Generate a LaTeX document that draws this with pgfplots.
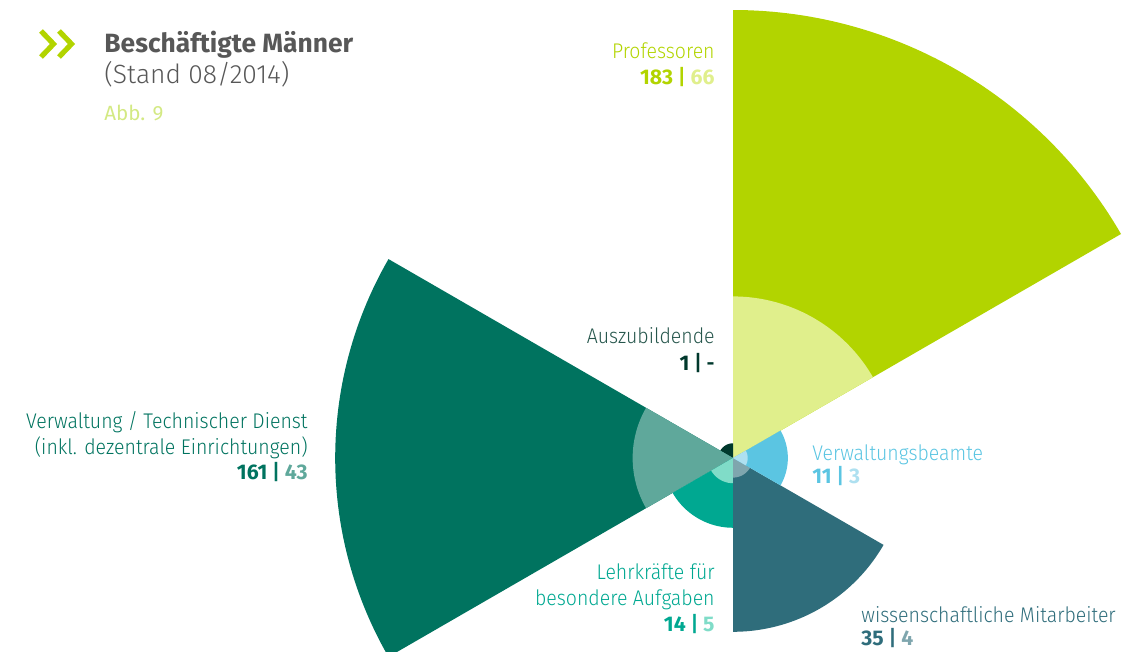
\documentclass[border=0pt]{standalone}
\usepackage{pgfplots}
\pgfplotsset{compat=1.18}
\usepackage{fontspec}
\setmainfont{Fira Sans}
\newfontfamily\lightfont[FakeStretch=0.92]{Fira Sans Light}
\newfontfamily\titlelight{Fira Sans Light}
\definecolor{profO}{HTML}{B2D400}
\definecolor{profI}{HTML}{E0EF8C}
\definecolor{verwO}{HTML}{00735F}
\definecolor{verwI}{HTML}{5FA89B}
\definecolor{lehrO}{HTML}{00A891}
\definecolor{lehrI}{HTML}{80DCC8}
\definecolor{wissO}{HTML}{2F6D7B}
\definecolor{wissI}{HTML}{7FA6AE}
\definecolor{beamO}{HTML}{5BC5E2}
\definecolor{beamI}{HTML}{AEE0F0}
\definecolor{azubi}{HTML}{00382C}
\definecolor{titlegrey}{HTML}{575757}
\definecolor{abb}{HTML}{D3E983}
\newcommand{\sector}[4]{%
  \addplot[draw=none, fill=#4, domain=#1:#2, samples=61, variable=\t]
    ({#3*cos(\t)},{#3*sin(\t)}) -- (axis cs:0,0) -- cycle;}
\newcommand{\lab}{\fontsize{10.6}{12}\selectfont}
\begin{document}
\begin{tikzpicture}
\useasboundingbox (0,0) rectangle (564pt,326pt);
\begin{axis}[at={(0,0)}, anchor=south west,
  scale only axis, width=564pt, height=326pt,
  xmin=-299.42, xmax=161.35, ymin=-79.25, ymax=187.09,
  hide axis, clip=true]
% start angle, end angle, radius (outer, then inner)
\sector{30}{90}{183}{profO}
\sector{30}{90}{66}{profI}
\sector{90}{150}{6}{azubi}
\sector{150}{210}{162.5}{verwO}
\sector{150}{210}{41}{verwI}
\sector{210}{270}{28.5}{lehrO}
\sector{210}{270}{10.3}{lehrI}
\sector{270}{330}{71}{wissO}
\sector{270}{330}{8}{wissI}
\sector{-30}{30}{22.4}{beamO}
\sector{-30}{30}{6}{beamI}
\end{axis}
\begin{scope}[x=0.5pt, y=-0.5pt, shift={(0pt,326pt)}]
% chevrons
\draw[profO, line width=2.6pt, line cap=butt, line join=miter]
  (41,31) -- (53.5,44) -- (41,57);
\draw[profO, line width=2.6pt, line cap=butt, line join=miter]
  (59,31) -- (71.5,44) -- (59,57);
\node[anchor=base west, inner sep=0pt, text=titlegrey, font=\fontsize{13.2}{15}\selectfont\bfseries] at (104,53) {Beschäftigte Männer};
\node[anchor=base west, inner sep=0pt, text=titlegrey, font=\fontsize{13.2}{15}\selectfont\titlelight] at (104,84) {(Stand 08/2014)};
\node[anchor=base west, inner sep=0pt, text=abb, font=\fontsize{10.3}{12}\selectfont] at (104,121) {Abb. 9};
% Professoren
\node[anchor=base east, inner sep=0pt, text=profO, font=\lab\lightfont] at (715,59) {Professoren};
\node[anchor=base east, inner sep=0pt, text=profO, font=\lab] at (715,85) {\bfseries 183 {\lightfont|} \textcolor{profI}{66}};
% Auszubildende
\node[anchor=base east, inner sep=0pt, text=azubi!85, font=\lab\lightfont] at (715,344) {Auszubildende};
\node[anchor=base east, inner sep=0pt, text=azubi, font=\lab] at (715,371) {\bfseries 1 {\lightfont| -}};
% Verwaltung
\node[anchor=base east, inner sep=0pt, text=verwO, font=\lab\lightfont] at (308,429) {Verwaltung / Technischer Dienst};
\node[anchor=base east, inner sep=0pt, text=verwO, font=\lab\lightfont] at (308,455) {(inkl. dezentrale Einrichtungen)};
\node[anchor=base east, inner sep=0pt, text=verwO, font=\lab] at (308,480) {\bfseries 161 {\lightfont|} \textcolor{verwI}{43}};
% Verwaltungsbeamte
\node[anchor=base west, inner sep=0pt, text=beamO, font=\lab\lightfont] at (812,461) {Verwaltungsbeamte};
\node[anchor=base west, inner sep=0pt, text=beamO, font=\lab] at (812,484) {\bfseries 11 {\lightfont|} \textcolor{beamI}{3}};
% Lehrkraefte
\node[anchor=base east, inner sep=0pt, text=lehrO, font=\lab\lightfont] at (715,580) {Lehrkräfte für};
\node[anchor=base east, inner sep=0pt, text=lehrO, font=\lab\lightfont] at (715,606) {besondere Aufgaben};
\node[anchor=base east, inner sep=0pt, text=lehrO, font=\lab] at (715,632) {\bfseries 14 {\lightfont|} \textcolor{lehrI}{5}};
% wiss. Mitarbeiter
\node[anchor=base west, inner sep=0pt, text=wissO, font=\lab\lightfont] at (861,623) {wissenschaftliche Mitarbeiter};
\node[anchor=base west, inner sep=0pt, text=wissO, font=\lab] at (861,646) {\bfseries 35 {\lightfont|} \textcolor{wissI}{4}};
\end{scope}
\end{tikzpicture}
\end{document}
